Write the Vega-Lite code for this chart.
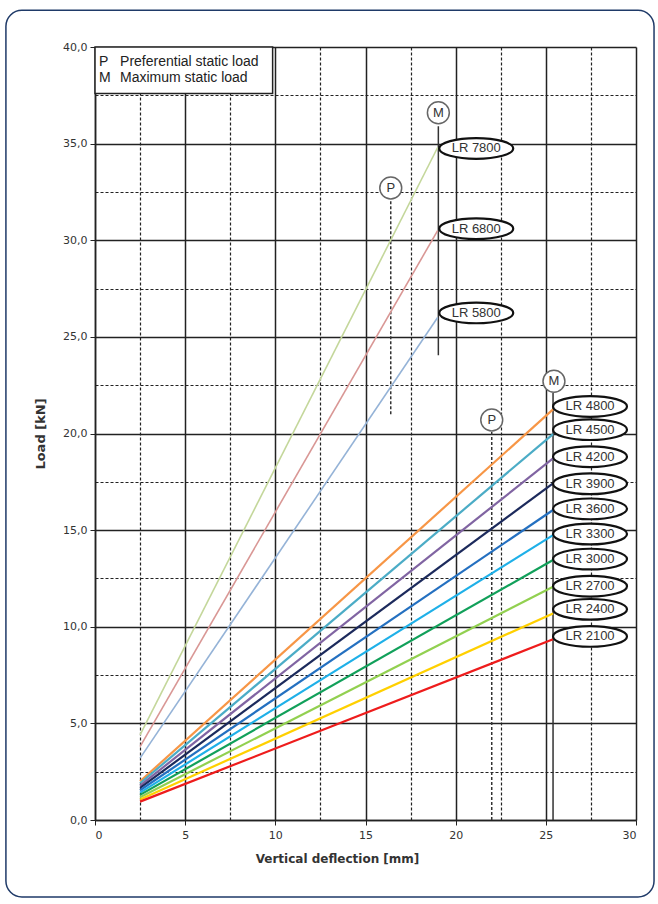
{
  "$schema": "https://vega.github.io/schema/vega-lite/v6.json",
  "width": 541,
  "height": 773,
  "autosize": "none",
  "padding": {"left": 95, "top": 47, "right": 22, "bottom": 84},
  "background": "white",
  "config": {"view": {"stroke": null}, "font": "Liberation Sans"},
  "datasets": {
    "lines": [
      {"series": "LR 7800", "grp": "upper", "x": 2.5, "y": 4.4},
      {"series": "LR 7800", "grp": "upper", "x": 19.0, "y": 34.8},
      {"series": "LR 6800", "grp": "upper", "x": 2.5, "y": 3.8},
      {"series": "LR 6800", "grp": "upper", "x": 19.0, "y": 30.5},
      {"series": "LR 5800", "grp": "upper", "x": 2.5, "y": 3.2},
      {"series": "LR 5800", "grp": "upper", "x": 19.0, "y": 26.0},
      {"series": "LR 4800", "grp": "lower", "x": 2.5, "y": 2.0},
      {"series": "LR 4800", "grp": "lower", "x": 25.4, "y": 21.25},
      {"series": "LR 4500", "grp": "lower", "x": 2.5, "y": 1.9},
      {"series": "LR 4500", "grp": "lower", "x": 25.4, "y": 19.97},
      {"series": "LR 4200", "grp": "lower", "x": 2.5, "y": 1.78},
      {"series": "LR 4200", "grp": "lower", "x": 25.4, "y": 18.71},
      {"series": "LR 3900", "grp": "lower", "x": 2.5, "y": 1.66},
      {"series": "LR 3900", "grp": "lower", "x": 25.4, "y": 17.42},
      {"series": "LR 3600", "grp": "lower", "x": 2.5, "y": 1.54},
      {"series": "LR 3600", "grp": "lower", "x": 25.4, "y": 16.04},
      {"series": "LR 3300", "grp": "lower", "x": 2.5, "y": 1.42},
      {"series": "LR 3300", "grp": "lower", "x": 25.4, "y": 14.74},
      {"series": "LR 3000", "grp": "lower", "x": 2.5, "y": 1.3},
      {"series": "LR 3000", "grp": "lower", "x": 25.4, "y": 13.45},
      {"series": "LR 2700", "grp": "lower", "x": 2.5, "y": 1.18},
      {"series": "LR 2700", "grp": "lower", "x": 25.4, "y": 12.07},
      {"series": "LR 2400", "grp": "lower", "x": 2.5, "y": 1.06},
      {"series": "LR 2400", "grp": "lower", "x": 25.4, "y": 10.69},
      {"series": "LR 2100", "grp": "lower", "x": 2.5, "y": 0.95},
      {"series": "LR 2100", "grp": "lower", "x": 25.4, "y": 9.35}
    ],
    "labels": [
      {"label": "LR 7800", "x": 21.14, "y": 34.75},
      {"label": "LR 6800", "x": 21.14, "y": 30.6},
      {"label": "LR 5800", "x": 21.14, "y": 26.24},
      {"label": "LR 4800", "x": 27.45, "y": 21.4},
      {"label": "LR 4500", "x": 27.45, "y": 20.2},
      {"label": "LR 4200", "x": 27.45, "y": 18.8},
      {"label": "LR 3900", "x": 27.45, "y": 17.4},
      {"label": "LR 3600", "x": 27.45, "y": 16.1},
      {"label": "LR 3300", "x": 27.45, "y": 14.8},
      {"label": "LR 3000", "x": 27.45, "y": 13.5},
      {"label": "LR 2700", "x": 27.45, "y": 12.1},
      {"label": "LR 2400", "x": 27.45, "y": 10.9},
      {"label": "LR 2100", "x": 27.45, "y": 9.5}
    ],
    "markers": [
      {"m": "M", "x": 19.04, "y": 36.6},
      {"m": "P", "x": 16.4, "y": 32.7},
      {"m": "M", "x": 25.45, "y": 22.7},
      {"m": "P", "x": 22.0, "y": 20.7}
    ],
    "rules": [
      {"kind": "M", "x": 19.04, "y": 24.05, "y2": 35.9},
      {"kind": "P", "x": 16.4, "y": 21.0, "y2": 32.1},
      {"kind": "M", "x": 25.4, "y": 0, "y2": 22.1},
      {"kind": "P", "x": 22.0, "y": 0, "y2": 20.1}
    ],
    "legend": [
      {"sym": "P", "desc": "Preferential static load", "y": 39.23},
      {"sym": "M", "desc": "Maximum static load", "y": 38.4}
    ]
  },
  "layer": [
    {
      "data": {"values": [{}]},
      "mark": {"type": "rect", "fill": null, "stroke": "#1f3a68", "strokeWidth": 1.5, "cornerRadius": 16, "clip": false},
      "encoding": {
        "x": {
          "datum": -4.94, "type": "quantitative",
          "scale": {"domain": [0, 30], "nice": false, "zero": false},
          "axis": {
            "values": [0, 2.5, 5, 7.5, 10, 12.5, 15, 17.5, 20, 22.5, 25, 27.5, 30],
            "title": "Vertical deflection [mm]",
            "titleFont": "DejaVu Sans", "titleFontSize": 12, "titleFontWeight": "bold", "titleColor": "#333",
            "titleX": 242, "titleY": 38, "titleBaseline": "middle", "titleAlign": "center",
            "labelExpr": "datum.value % 5 === 0 ? format(datum.value, 'd') : ''",
            "labelFont": "DejaVu Sans", "labelFontSize": 11, "labelColor": "#333", "labelPadding": 4,
            "grid": true, "gridColor": "#222",
            "gridDash": {"condition": {"test": "datum.value % 5 !== 0", "value": [3, 2]}, "value": []},
            "gridWidth": {"condition": {"test": "datum.value % 5 !== 0", "value": 1.2}, "value": 1.5},
            "domainColor": "#222", "domainWidth": 1.5,
            "tickColor": "#222", "tickSize": 5,
            "tickOpacity": {"condition": {"test": "datum.value % 5 !== 0", "value": 0}, "value": 1}
          }
        },
        "x2": {"datum": 31.0},
        "y": {
          "datum": -3.98, "type": "quantitative",
          "scale": {"domain": [0, 40], "nice": false, "zero": false},
          "axis": {
            "values": [0, 2.5, 5, 7.5, 10, 12.5, 15, 17.5, 20, 22.5, 25, 27.5, 30, 32.5, 35, 37.5, 40],
            "title": "Load [kN]",
            "titleFont": "DejaVu Sans", "titleFontSize": 13, "titleFontWeight": "bold", "titleColor": "#333",
            "titleX": -55, "titleY": 386.5, "titleAngle": 270, "titleBaseline": "middle", "titleAlign": "center",
            "labelExpr": "datum.value % 5 === 0 ? replace(format(datum.value, '.1f'), '.', ',') : ''",
            "labelFont": "DejaVu Sans", "labelFontSize": 11, "labelColor": "#333", "labelPadding": 3,
            "grid": true, "gridColor": "#222",
            "gridDash": {"condition": {"test": "datum.value % 5 !== 0", "value": [3, 2]}, "value": []},
            "gridWidth": {"condition": {"test": "datum.value % 5 !== 0", "value": 1.2}, "value": 1.5},
            "domainColor": "#222", "domainWidth": 1.5,
            "tickColor": "#222", "tickSize": 5,
            "tickOpacity": {"condition": {"test": "datum.value % 5 !== 0", "value": 0}, "value": 1}
          }
        },
        "y2": {"datum": 41.9}
      }
    },
    {
      "data": {"name": "rules"},
      "mark": {"type": "rule", "color": "#333", "strokeWidth": 1.5},
      "encoding": {
        "x": {"field": "x", "type": "quantitative"},
        "y": {"field": "y", "type": "quantitative"},
        "y2": {"field": "y2"},
        "strokeDash": {"field": "kind", "type": "nominal", "scale": {"domain": ["M", "P"], "range": [[1, 0], [3, 2]]}, "legend": null}
      }
    },
    {
      "data": {"name": "lines"},
      "transform": [{"filter": "datum.grp === 'upper'"}],
      "mark": {"type": "line", "strokeWidth": 1.6},
      "encoding": {
        "x": {"field": "x", "type": "quantitative"},
        "y": {"field": "y", "type": "quantitative"},
        "detail": {"field": "series"},
        "color": {
          "field": "series", "type": "nominal", "legend": null,
          "scale": {
            "domain": ["LR 7800", "LR 6800", "LR 5800", "LR 4800", "LR 4500", "LR 4200", "LR 3900", "LR 3600", "LR 3300", "LR 3000", "LR 2700", "LR 2400", "LR 2100"],
            "range": ["#c4d79b", "#d99795", "#95b3d7", "#f79646", "#4bacc6", "#8064a2", "#1c2a5c", "#2470c0", "#1fb0e8", "#11a05a", "#92d050", "#ffd000", "#ee1c1c"]
          }
        }
      }
    },
    {
      "data": {"name": "lines"},
      "transform": [{"filter": "datum.grp === 'lower'"}],
      "mark": {"type": "line", "strokeWidth": 2.2},
      "encoding": {
        "x": {"field": "x", "type": "quantitative"},
        "y": {"field": "y", "type": "quantitative"},
        "detail": {"field": "series"},
        "color": {"field": "series", "type": "nominal", "legend": null}
      }
    },
    {
      "data": {"values": [{}]},
      "mark": {"type": "rect", "fill": "white", "stroke": "#222", "strokeWidth": 1.5},
      "encoding": {
        "x": {"datum": 0, "type": "quantitative"},
        "x2": {"datum": 9.85},
        "y": {"datum": 37.6, "type": "quantitative"},
        "y2": {"datum": 40}
      }
    },
    {
      "data": {"name": "legend"},
      "mark": {"type": "text", "align": "left", "baseline": "middle", "fontSize": 14, "color": "#222", "font": "Liberation Sans"},
      "encoding": {
        "x": {"datum": 0.22, "type": "quantitative"},
        "y": {"field": "y", "type": "quantitative"},
        "text": {"field": "sym"}
      }
    },
    {
      "data": {"name": "legend"},
      "mark": {"type": "text", "align": "left", "baseline": "middle", "fontSize": 14, "color": "#222", "font": "Liberation Sans"},
      "encoding": {
        "x": {"datum": 1.39, "type": "quantitative"},
        "y": {"field": "y", "type": "quantitative"},
        "text": {"field": "desc"}
      }
    },
    {
      "data": {"name": "markers"},
      "mark": {"type": "point", "shape": "circle", "size": 480, "filled": false, "fill": "white", "fillOpacity": 1, "stroke": "#666", "strokeWidth": 1.5, "opacity": 1},
      "encoding": {
        "x": {"field": "x", "type": "quantitative"},
        "y": {"field": "y", "type": "quantitative"}
      }
    },
    {
      "data": {"name": "markers"},
      "mark": {"type": "text", "align": "center", "baseline": "middle", "fontSize": 13, "color": "#333", "font": "Liberation Sans"},
      "encoding": {
        "x": {"field": "x", "type": "quantitative"},
        "y": {"field": "y", "type": "quantitative"},
        "text": {"field": "m"}
      }
    },
    {
      "data": {"name": "labels"},
      "mark": {"type": "point", "shape": "M-1,0A1,0.28,0,1,1,1,0A1,0.28,0,1,1,-1,0Z", "size": 5476, "filled": false, "fill": "white", "fillOpacity": 1, "stroke": "#111", "strokeWidth": 2.2, "opacity": 1},
      "encoding": {
        "x": {"field": "x", "type": "quantitative"},
        "y": {"field": "y", "type": "quantitative"}
      }
    },
    {
      "data": {"name": "labels"},
      "mark": {"type": "text", "align": "center", "baseline": "middle", "fontSize": 13, "color": "#333", "font": "Liberation Sans"},
      "encoding": {
        "x": {"field": "x", "type": "quantitative"},
        "y": {"field": "y", "type": "quantitative"},
        "text": {"field": "label"}
      }
    }
  ]
}
